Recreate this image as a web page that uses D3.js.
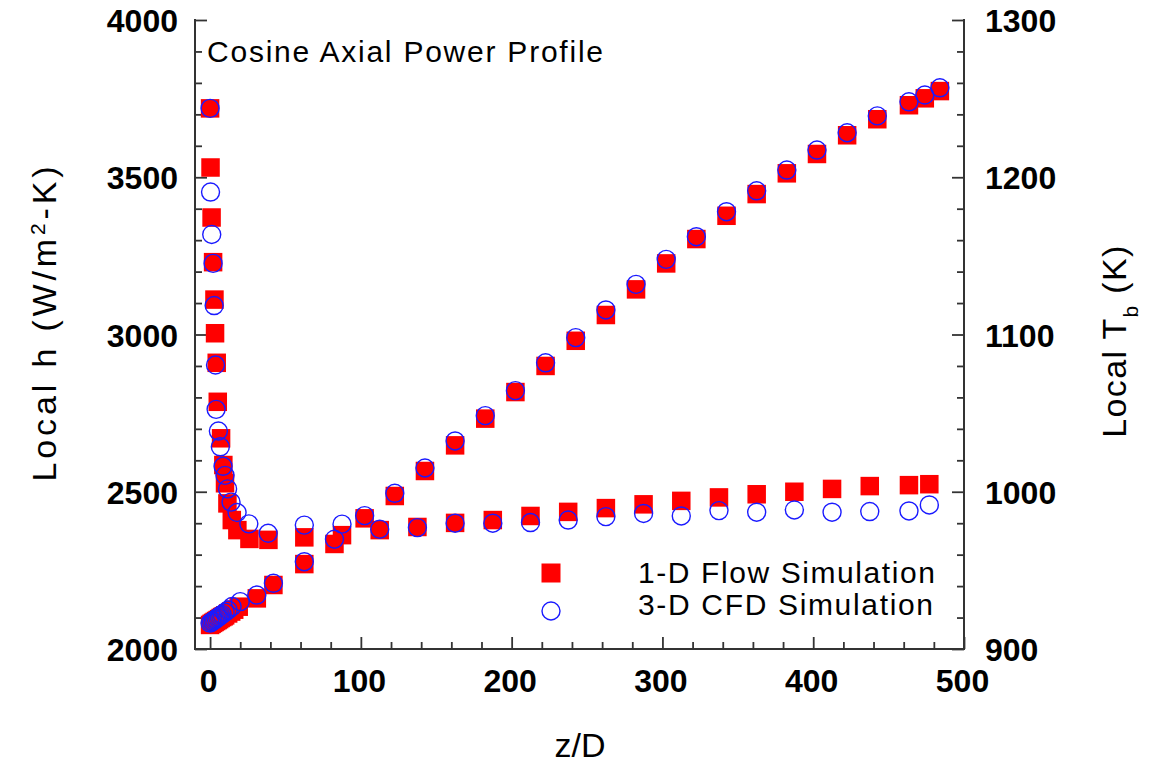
<!DOCTYPE html>
<html>
<head>
<meta charset="utf-8">
<script src="https://cdn.jsdelivr.net/npm/d3@7/dist/d3.min.js"></script>
<style>
  html, body { margin: 0; padding: 0; background: #fff; }
  svg { display: block; font-family: "Liberation Sans", Arial, sans-serif; }
</style>
</head>
<body>
<svg id="chart" width="1152" height="770"></svg>
<script>
// ---------- data ----------
// Local h, 1-D flow simulation (left axis)
const h1X = [0, 0.3, 1.0, 2.0, 2.9, 3.3, 4.4, 5.1, 7.3, 8.8, 9.9, 11.5, 14.4, 18.1, 26.1, 38.7,
             62.5, 87.5, 112.5, 137.5, 162.5, 187.5, 212.5, 237.5, 262.5, 287.5, 312.5, 337.5,
             362.5, 387.5, 412.5, 437.5, 463.5, 477];
const h1Y = [3719, 3531, 3372, 3230, 3111, 3004, 2910, 2786, 2670, 2585, 2527, 2463, 2410, 2378, 2350, 2347,
             2355, 2362, 2378, 2388, 2401, 2410, 2423, 2436, 2448, 2460, 2471, 2482,
             2492, 2500, 2509, 2518, 2521, 2524];
// Local h, 3-D CFD simulation (left axis)
const h3X = [0, 0.3, 1.1, 2.0, 2.7, 3.6, 4.0, 5.5, 6.8, 8.6, 9.9, 11.6, 13.9, 17.9, 25.7, 38.5,
             62.5, 87.5, 112.5, 137.5, 162.5, 187.5, 212.5, 237.5, 262.5, 287.5, 312.5, 337.5,
             362.5, 387.5, 412.5, 437.5, 463.5, 477];
const h3Y = [3719, 3453, 3318, 3226, 3092, 2903, 2762, 2693, 2643, 2581, 2552, 2509, 2467, 2434, 2398, 2368,
             2394, 2397, 2381, 2386, 2400, 2400, 2402, 2410, 2421, 2431, 2423, 2440,
             2435, 2442, 2435, 2437, 2439, 2458];
// Local Tb, 1-D flow simulation (right axis)
const t1X = [0, 1, 2, 3, 4, 5, 6, 7, 8, 9, 10, 12, 14, 16, 19, 31, 42,
             62.5, 82.5, 102.5, 122.5, 142.5, 162.5, 182.5, 202.5, 222.5, 242.5, 262.5, 282.5,
             302.5, 322.5, 342.5, 362.5, 382.5, 402.5, 422.5, 442.5, 463.5, 474, 484];
const t1Y = [915.3, 916.0, 916.6, 917.2, 917.8, 918.4, 919.0, 919.7, 920.3, 920.8, 921.4, 922.6, 923.8, 925.0, 926.9, 932.2, 940.7,
             954.0, 966.8, 983.1, 997.3, 1013.2, 1029.5, 1046.5, 1063.4, 1080.0, 1096.0, 1112.4, 1128.7,
             1145.2, 1160.7, 1175.5, 1189.3, 1202.5, 1214.8, 1226.7, 1236.9, 1245.8, 1250.2, 1254.8];
// Local Tb, 3-D CFD simulation (right axis)
const t3X = [0, 1, 2, 3, 4, 5, 6, 7, 8, 10, 12, 14.6, 20, 31, 42,
             62.5, 82.5, 102.5, 122.5, 142.5, 162.5, 182.5, 202.5, 222.5, 242.5, 262.5, 282.5,
             302.5, 322.5, 342.5, 362.5, 382.5, 402.5, 422.5, 442.5, 463.5, 474, 484];
const t3Y = [916.5, 917.2, 917.8, 918.5, 919.2, 919.9, 920.6, 921.3, 922.0, 923.4, 924.8, 927.0, 930.1, 934.3, 941.8,
             955.5, 969.8, 984.8, 999.0, 1015.1, 1032.3, 1048.4, 1064.3, 1082.0, 1098.0, 1115.6, 1131.9,
             1147.8, 1162.2, 1178.1, 1191.4, 1204.6, 1217.3, 1228.3, 1239.0, 1248.0, 1252.3, 1256.9];

const xTicks = [0, 100, 200, 300, 400, 500];
const xMinor = [20, 40, 60, 80, 120, 140, 160, 180, 220, 240, 260, 280, 320, 340, 360, 380, 420, 440, 460, 480];
const hTicks = [2000, 2500, 3000, 3500, 4000];
const hMinor = [2100, 2200, 2300, 2400, 2600, 2700, 2800, 2900, 3100, 3200, 3300, 3400, 3600, 3700, 3800, 3900];
const tTicks = [900, 1000, 1100, 1200, 1300];
const tMinor = [920, 940, 960, 980, 1020, 1040, 1060, 1080, 1120, 1140, 1160, 1180, 1220, 1240, 1260, 1280];

const titleText = "Cosine Axial Power Profile";
const legendLabels = ["1-D Flow Simulation", "3-D CFD Simulation"];

// ---------- layout ----------
const L = 195, R = 964, T = 20, B = 649;
const svg = d3.select("#chart");
const x = d3.scaleLinear().domain([-10, 500]).range([L, R]);
const yL = d3.scaleLinear().domain([2000, 4000]).range([B, T]);
const yR = d3.scaleLinear().domain([900, 1300]).range([B, T]);

const AX = "#333";
function styleAxis(g) {
  g.select(".domain").remove();
  g.selectAll(".tick line").attr("stroke", AX).attr("stroke-width", 1.8);
  g.selectAll(".tick text").attr("fill", "#000").style("font-size", "32px").style("font-weight", "bold")
    .style("font-family", "'Liberation Sans', Arial, sans-serif");
}

// minor ticks
svg.append("g").attr("transform", `translate(${L},0)`)
  .call(d3.axisLeft(yL).tickValues(hMinor).tickSize(-7).tickFormat("")).call(styleAxis);
svg.append("g").attr("transform", `translate(${R},0)`)
  .call(d3.axisRight(yR).tickValues(tMinor).tickSize(-7).tickFormat("")).call(styleAxis);
svg.append("g").attr("transform", `translate(0,${B})`)
  .call(d3.axisBottom(x).tickValues(xMinor).tickSize(-7).tickFormat("")).call(styleAxis);

// major ticks + labels
const gl = svg.append("g").attr("transform", `translate(${L},0)`)
  .call(d3.axisLeft(yL).tickValues(hTicks).tickSize(-12).tickPadding(17).tickFormat(d3.format("d"))).call(styleAxis);
gl.selectAll(".tick text").attr("dy", "0.36em");
const gr = svg.append("g").attr("transform", `translate(${R},0)`)
  .call(d3.axisRight(yR).tickValues(tTicks).tickSize(-12).tickPadding(21).tickFormat(d3.format("d"))).call(styleAxis);
gr.selectAll(".tick text").attr("dy", "0.36em");
const gb = svg.append("g").attr("transform", `translate(0,${B})`)
  .call(d3.axisBottom(x).tickValues(xTicks).tickSize(-12).tickPadding(20).tickFormat(d3.format("d"))).call(styleAxis);
gb.selectAll(".tick text").attr("dy", "0.71em").attr("dx", "-2");

// axis lines
svg.append("line").attr("x1", L).attr("x2", L).attr("y1", T - 1).attr("y2", B + 1).attr("stroke", AX).attr("stroke-width", 2);
svg.append("line").attr("x1", R).attr("x2", R).attr("y1", T - 1).attr("y2", B + 1).attr("stroke", AX).attr("stroke-width", 2);
svg.append("line").attr("x1", L - 1).attr("x2", R + 1).attr("y1", B).attr("y2", B).attr("stroke", AX).attr("stroke-width", 2);

// ---------- marks ----------
const RED = "#ff0000", BLUE = "#1a1aff";
const SQ = 18.5, CR = 9;
const sq1 = h1X.map((v, i) => [x(v), yL(h1Y[i])]).concat(t1X.map((v, i) => [x(v), yR(t1Y[i])]));
const ci3 = h3X.map((v, i) => [x(v), yL(h3Y[i])]).concat(t3X.map((v, i) => [x(v), yR(t3Y[i])]));

svg.append("g").selectAll("rect").data(sq1).join("rect")
  .attr("x", d => d[0] - SQ / 2).attr("y", d => d[1] - SQ / 2)
  .attr("width", SQ).attr("height", SQ).attr("fill", RED);
svg.append("g").selectAll("circle").data(ci3).join("circle")
  .attr("cx", d => d[0]).attr("cy", d => d[1]).attr("r", CR)
  .attr("fill", "none").attr("stroke", BLUE).attr("stroke-width", 1.4);

// ---------- text ----------
function fit(sel, target) {
  const n = sel.node();
  const len = n.getComputedTextLength();
  const chars = n.getNumberOfChars();
  const ls = (target - len) / (chars - 1);
  sel.style("letter-spacing", ls + "px");
}

const title = svg.append("text").attr("x", 207).attr("y", 62).style("font-size", "30px").attr("fill", "#000").text(titleText);
fit(title, 396);

// legend
svg.append("rect").attr("x", 551 - 9.5).attr("y", 573 - 9.5).attr("width", 19).attr("height", 19).attr("fill", RED);
svg.append("circle").attr("cx", 551).attr("cy", 611).attr("r", 9).attr("fill", "none").attr("stroke", BLUE).attr("stroke-width", 1.4);
const lt1 = svg.append("text").attr("x", 638).attr("y", 583).style("font-size", "30px").attr("fill", "#000").text(legendLabels[0]);
fit(lt1, 297);
const lt2 = svg.append("text").attr("x", 638).attr("y", 615).style("font-size", "30px").attr("fill", "#000").text(legendLabels[1]);
fit(lt2, 295);

// axis titles
svg.append("text").attr("x", 580).attr("y", 757).attr("text-anchor", "middle")
  .style("font-size", "34px").attr("fill", "#000").text("z/D");

const ylt = svg.append("text").attr("transform", "translate(56,322) rotate(-90)").attr("text-anchor", "middle")
  .style("font-size", "34px").attr("fill", "#000");
ylt.append("tspan").text("Local h (W/m");
ylt.append("tspan").attr("baseline-shift", "super").style("font-size", "21px").text("2");
ylt.append("tspan").text("-K)");
fit(ylt, 315);

const yrt = svg.append("text").attr("transform", "translate(1126,341) rotate(-90)").attr("text-anchor", "middle")
  .style("font-size", "34px").attr("fill", "#000");
yrt.append("tspan").text("Local T");
yrt.append("tspan").attr("baseline-shift", "sub").style("font-size", "21px").text("b");
yrt.append("tspan").text(" (K)");
fit(yrt, 192);
</script>
</body>
</html>
